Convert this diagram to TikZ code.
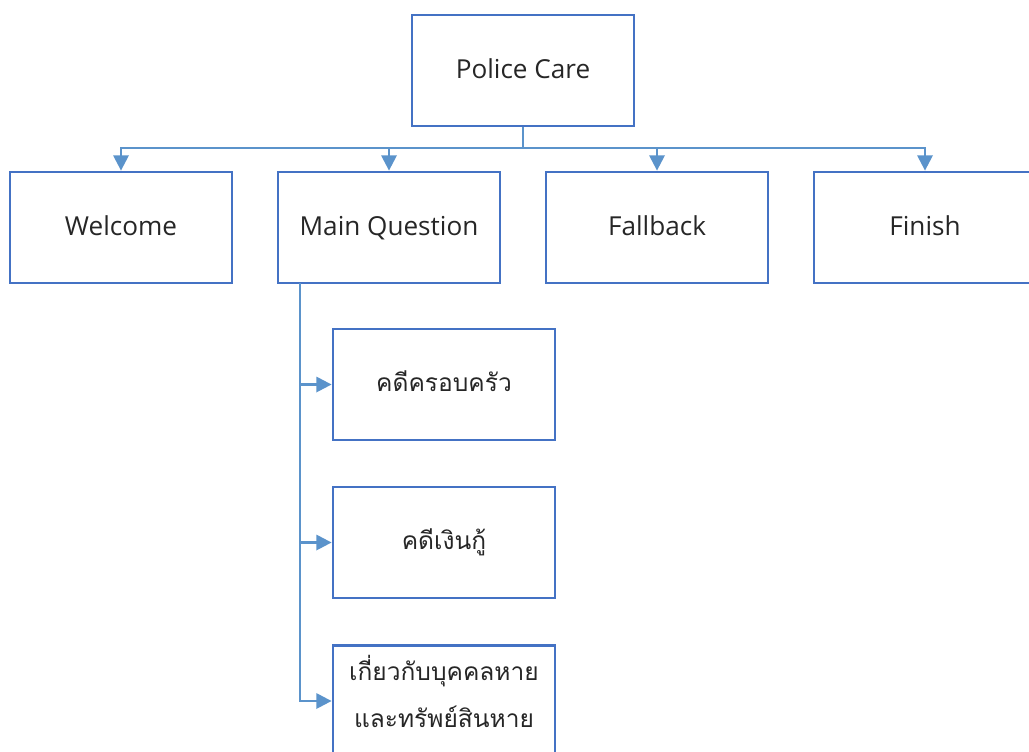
\documentclass[tikz,border=0pt]{standalone}
\usepackage{fontspec}
\setmainfont{Open Sans}
\newfontfamily\thaifont[Script=Thai]{Loma}
\usetikzlibrary{arrows.meta}
\definecolor{boxblue}{HTML}{4472C4}
\definecolor{linkblue}{HTML}{5B93CB}
\tikzset{
  box/.style={draw=boxblue, line width=2.1pt, minimum width=166.5pt, minimum height=83.25pt, inner sep=0pt, align=center, font=\fontsize{19.6}{26}\selectfont, text=black!85, text height=14pt, text depth=2pt},
  conn/.style={draw=linkblue, line width=1.8pt, -{Triangle[length=11.5pt,width=11.5pt]}},
  thai/.style={font=\thaifont\fontsize{18.4}{36}\selectfont, text height=13pt, text depth=2pt},
  label/.style={inner sep=0pt, text=black!85}
}
\begin{document}
\begin{tikzpicture}[x=0.75pt,y=-0.75pt]
\path[use as bounding box] (0,0) rectangle (1029,751);
\clip (0,0) rectangle (1029,751);
\node[box] (pc) at (523,70.5) {Police Care};
\node[box] (w) at (121,227.5) {Welcome};
\node[box] (mq) at (389,227.5) {Main Question};
\node[box] (fb) at (657,227.5) {Fallback};
\node[box] (fi) at (925,227.5) {Finish};
\node[box,thai] (s1) at (444,384.5) {คดีครอบครัว};
\node[box,thai] (s2) at (444,542.5) {คดีเงินกู้};
\node[box] (s3) at (444,701) {};
\node[label,thai] (s3a) at (444,673) {เกี่ยวกับบุคคลหาย};
\node[label,thai] (s3b) at (444,720) {และทรัพย์สินหาย};
\coordinate (bus) at (523,148);
\coordinate (v) at (300,283);
\draw[conn] (pc.south) -- (bus) -| (w.north);
\draw[conn] (pc.south) -- (bus) -| (mq.north);
\draw[conn] (pc.south) -- (bus) -| (fb.north);
\draw[conn] (pc.south) -- (bus) -| (fi.north);
\draw[conn] (v) |- (s1.west);
\draw[conn] (v) |- (s2.west);
\draw[conn] (v) |- (s3.west);
\end{tikzpicture}
\end{document}
